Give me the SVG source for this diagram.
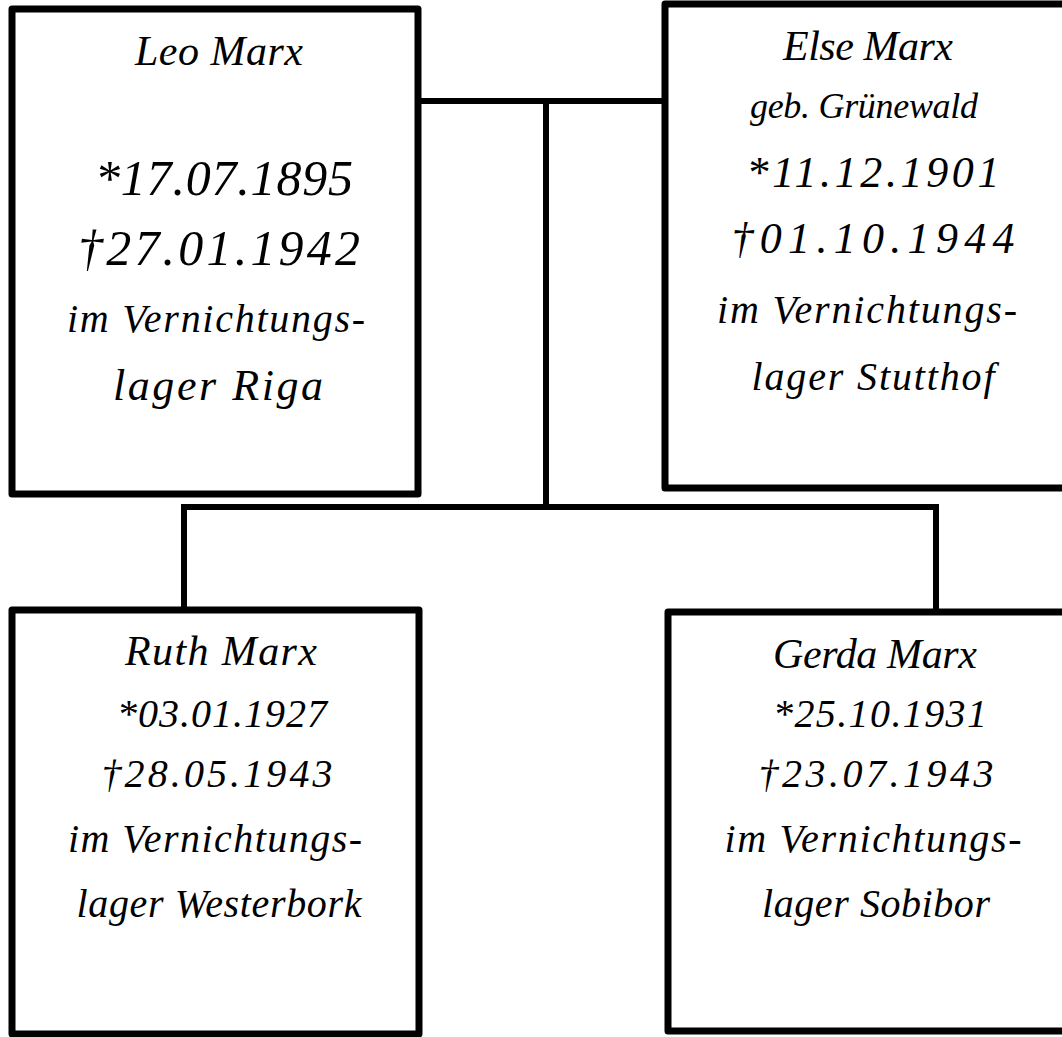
<svg xmlns="http://www.w3.org/2000/svg" width="1062" height="1037" viewBox="0 0 1062 1037">
<style>
.box{fill:#fff;stroke:#000;stroke-width:7;stroke-linejoin:round}
.con{fill:none;stroke:#000;stroke-width:6;stroke-linecap:square}
text{font-family:"Liberation Serif","DejaVu Serif",serif;font-style:italic;fill:#000;text-anchor:middle}
.nm{font-size:42px}
.d1{font-size:50px}
.d2{font-size:44px}
.d3{font-size:40px}
.w{font-size:40px}
</style>
<rect x="0" y="0" width="1062" height="1037" fill="#fff"/>
<g id="connectors">
<path class="con" d="M421 101 H662"/>
<path class="con" d="M546 101 V507"/>
<path class="con" d="M184 507 H936"/>
<path class="con" d="M184 507 V607"/>
<path class="con" d="M936 507 V609"/>
</g>
<g id="leo">
<rect class="box" x="12" y="9" width="406" height="485"/>
<text class="nm" x="219" y="65" textLength="168">Leo Marx</text>
<text class="d1" x="224" y="195" textLength="258">*17.07.1895</text>
<text class="d1" x="219" y="265" textLength="282">†27.01.1942</text>
<text class="w" x="216" y="332" textLength="298">im Vernichtungs-</text>
<text class="w" x="218" y="400" style="font-size:44px" textLength="210">lager Riga</text>
</g>
<g id="else">
<rect class="box" x="665" y="4" width="410" height="484"/>
<text class="nm" x="868" y="60" textLength="170">Else Marx</text>
<text class="w" x="864" y="118" style="font-size:36px" textLength="228">geb. Grünewald</text>
<text class="d2" x="873" y="187" textLength="253">*11.12.1901</text>
<text class="d2" x="873" y="253" textLength="283">†01.10.1944</text>
<text class="w" x="867" y="323" textLength="300">im Vernichtungs-</text>
<text class="w" x="873" y="390" textLength="243">lager Stutthof</text>
</g>
<g id="ruth">
<rect class="box" x="12" y="610" width="407" height="424"/>
<text class="nm" x="221" y="665" textLength="192">Ruth Marx</text>
<text class="d3" x="222" y="727" textLength="210">*03.01.1927</text>
<text class="d3" x="217" y="787" textLength="231">†28.05.1943</text>
<text class="w" x="215" y="852" textLength="294">im Vernichtungs-</text>
<text class="w" x="219" y="917" textLength="285">lager Westerbork</text>
</g>
<g id="gerda">
<rect class="box" x="668" y="612" width="410" height="419"/>
<text class="nm" x="875" y="668" textLength="204">Gerda Marx</text>
<text class="d3" x="880" y="727" textLength="214">*25.10.1931</text>
<text class="d3" x="876" y="787" textLength="235">†23.07.1943</text>
<text class="w" x="873" y="852" textLength="297">im Vernichtungs-</text>
<text class="w" x="876" y="917" textLength="228">lager Sobibor</text>
</g>
</svg>
